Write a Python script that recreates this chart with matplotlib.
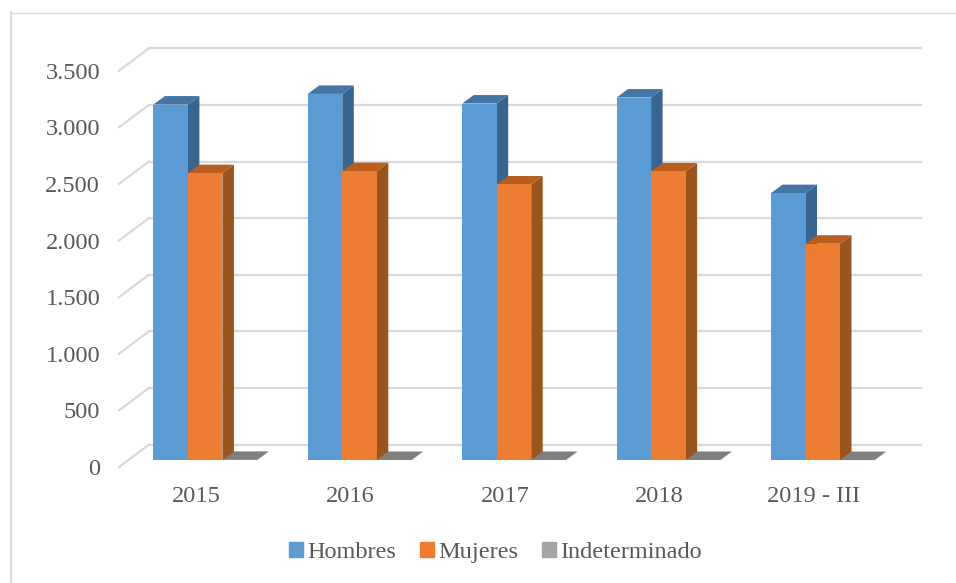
import matplotlib
matplotlib.use('Agg')
import matplotlib.pyplot as plt
from matplotlib.lines import Line2D
from matplotlib.patches import Patch
import numpy as np

plt.rcParams['font.family'] = ['Liberation Serif', 'DejaVu Serif']

# Data
years = ['2015', '2016', '2017', '2018', '2019 - III']
hombres = [3142, 3236, 3151, 3204, 2360]
mujeres = [2536, 2554, 2436, 2551, 1913]
indeterminado = [4, 3, 3, 3, 2]
y_ticks = [0, 500, 1000, 1500, 2000, 2500, 3000, 3500]
y_labels = ['0', '500', '1.000', '1.500', '2.000', '2.500', '3.000', '3.500']

W, H = 956, 583
fig = plt.figure(figsize=(W / 100, H / 100), dpi=100)
ax = fig.add_axes([119 / W, 1 - 467 / H, 772 / W, 396.3 / H])
ax.set_xlim(-0.5, 4.5)
ax.set_ylim(0, 3500)

# fake 3D offsets, in data units
wall_dx, wall_dy = 0.194, 198
depth_dx, depth_dy = 0.0745, 75
front_dx, front_dy = 0.058, 59
bar_w = 0.2235

grid_c = '#d9d9d9'
for t in y_ticks:
    ax.plot([-0.5, -0.5 + wall_dx], [t, t + wall_dy], color=grid_c, lw=1.6, clip_on=False, zorder=1)
    ax.plot([-0.5 + wall_dx, 4.5 + wall_dx], [t + wall_dy, t + wall_dy], color=grid_c, lw=1.6, clip_on=False, zorder=1)


def bars_3d(values, slot, front, side, top, z):
    x = np.arange(len(values)) + front_dx + (slot - 1) * bar_w
    vals = np.array(values)
    ax.bar(x, vals, width=bar_w, bottom=front_dy, color=front, zorder=z + 0.2, clip_on=False)
    for xi, v in zip(x, vals):
        l, r = xi - bar_w / 2, xi + bar_w / 2
        b, t = front_dy, front_dy + v
        ax.fill([r, r + depth_dx, r + depth_dx, r], [b, b + depth_dy, t + depth_dy, t],
                color=side, lw=0, zorder=z, clip_on=False)
        ax.fill([l, r, r + depth_dx, l + depth_dx], [t, t, t + depth_dy, t + depth_dy],
                color=top, lw=0, zorder=z + 0.1, clip_on=False)


bars_3d(indeterminado, 2, '#a5a5a5', '#636363', '#7f7f7f', 2)
bars_3d(hombres, 0, '#5b9bd5', '#37658f', '#4475a4', 3)
bars_3d(mujeres, 1, '#ed7d31', '#9a541e', '#b85f1f', 4)

ax.set_xticks(range(len(years)))
ax.set_xticklabels(years)
ax.set_yticks(y_ticks)
ax.set_yticklabels(y_labels, va='center_baseline')
ax.tick_params(axis='both', length=0, labelsize=17.6, labelcolor='#595959')
ax.tick_params(axis='x', pad=13.5)
ax.tick_params(axis='y', pad=13.5)
for s in ax.spines.values():
    s.set_visible(False)

handles = [Patch(color='#5b9bd5'), Patch(color='#ed7d31'), Patch(color='#a5a5a5')]
fig.legend(handles, ['Hombres', 'Mujeres', 'Indeterminado'], ncol=3, loc='center',
           bbox_to_anchor=(495.5 / W, 1 - 552.5 / H), frameon=False, fontsize=17.5, labelcolor='#595959',
           handlelength=0.55, handleheight=0.55, handletextpad=0.18, columnspacing=1.0,
           borderpad=0, borderaxespad=0)

# chart border, only top and left show
fig.add_artist(Line2D([11 / W, 11 / W], [0, 1 - 12 / H], color='#dcdcdc', lw=1.5))
fig.add_artist(Line2D([10 / W, 1], [1 - 12.5 / H, 1 - 12.5 / H], color='#dcdcdc', lw=1))

fig.savefig('out.png', dpi=100)
